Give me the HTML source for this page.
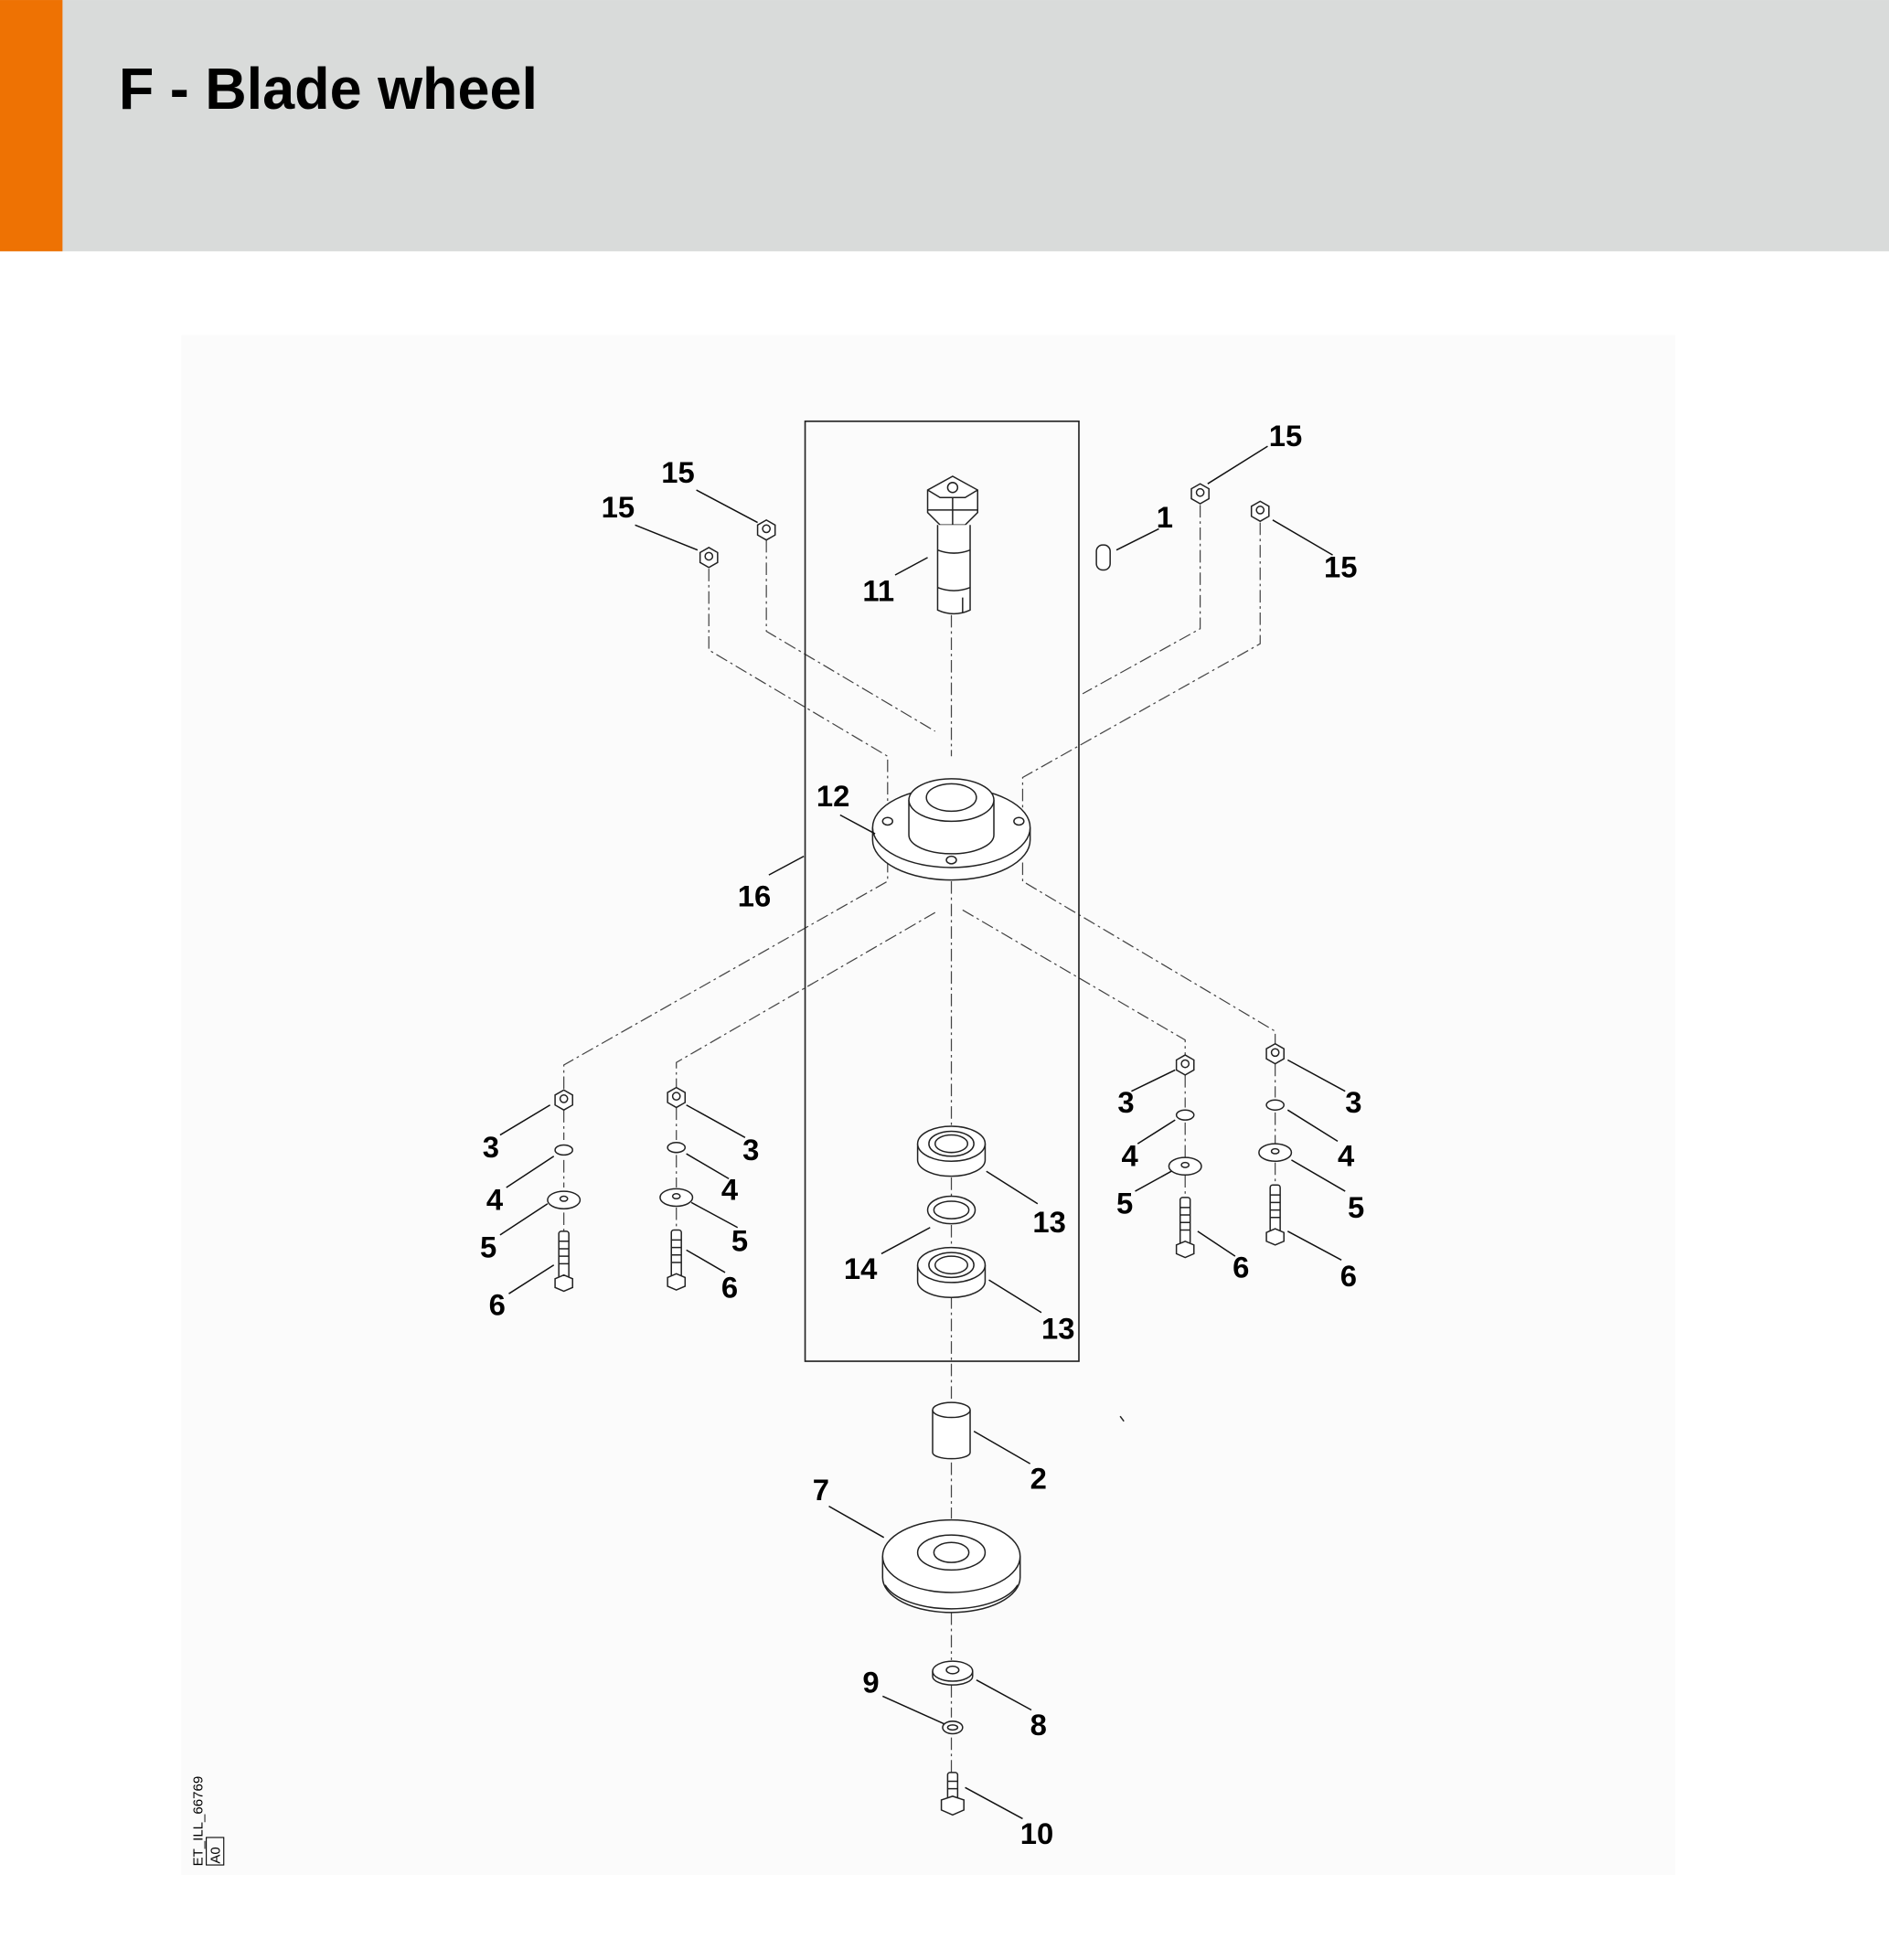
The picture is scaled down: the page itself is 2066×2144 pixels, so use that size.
<!DOCTYPE html>
<html><head><meta charset="utf-8"><style>html,body{margin:0;padding:0;background:#fff}svg{display:block}</style></head>
<body>
<svg width="2066" height="2144" viewBox="0 0 1511 1568" xmlns="http://www.w3.org/2000/svg" font-family="Liberation Sans, Arial, sans-serif">
<defs>
<g id="nut"><path d="M-7 -4 L0 -8 L7 -4 V4 L0 8 L-7 4 Z"/><circle cx="0" cy="-1" r="3"/></g>
<g id="bolt"><rect x="-4" y="0" width="8" height="38" rx="2"/><path d="M-4 8 H4 M-4 14 H4 M-4 20 H4 M-4 26 H4"/><path d="M-7 38 L0 35 L7 38 V45 L0 48 L-7 45 Z"/></g>
</defs>
<rect x="0" y="0" width="1511" height="1568" fill="#fff"/>
<rect x="0" y="0" width="1511" height="201" fill="#d9dbda"/>
<rect x="0" y="0" width="50" height="201" fill="#ee7203"/>
<text x="95" y="87" font-size="47" font-weight="bold" textLength="335" lengthAdjust="spacingAndGlyphs" fill="#000">F - Blade wheel</text>
<rect x="145" y="268" width="1195" height="1232" fill="#fbfbfb"/>

<g fill="none" stroke="#444" stroke-width="0.9" stroke-dasharray="10 3 2 3">
<path d="M761 492 V605 M761 705 V900 M761 942 V958 M761 980 V995 M761 1037 V1122 M761 1170 V1215 M761 1290 V1328 M761 1348 V1374 M761 1390 V1418"/>
<path d="M567 455 V520 L710 605 V650"/>
<path d="M613 432 V505 L748 585"/>
<path d="M960 404 V503 L866 555"/>
<path d="M1008 418 V515 L818 622 V650"/>
<path d="M710 688 V705 L451 852 V872"/>
<path d="M748 730 L541 850 V870"/>
<path d="M770 728 L948 832 V845"/>
<path d="M818 690 V705 L1020 825 V836"/>
<path d="M451 888 V912 M451 928 V950 M451 970 V985 M541 886 V912 M541 924 V950 M541 966 V985 M948 860 V886 M948 898 V926 M948 940 V958 M1020 851 V878 M1020 890 V915 M1020 930 V950"/>
</g>

<rect x="644" y="337" width="219" height="752" fill="none" stroke="#222" stroke-width="1.2"/>

<g fill="#fff" stroke="#222" stroke-width="1.1">
<path d="M742 392 L762 381 L782 392 V410 L772 420 H752 L742 410 Z"/>
<path d="M742 392 L752 398 H772 L782 392 M762 398 V420 M742 408 H782"/>
<circle cx="762" cy="390" r="4"/>
<path d="M750 420 V488 Q763 494 776 488 V420"/>
<path d="M750 440 Q763 445 776 440 M750 470 Q763 475 776 470 M770 478 V490"/>
<rect x="877" y="436" width="11" height="20" rx="5"/>
<use href="#nut" x="567" y="446"/><use href="#nut" x="613" y="424"/><use href="#nut" x="960" y="395"/><use href="#nut" x="1008" y="409"/>
<use href="#nut" x="451" y="880"/><use href="#nut" x="541" y="878"/><use href="#nut" x="948" y="852"/><use href="#nut" x="1020" y="843"/>
<ellipse cx="451" cy="920" rx="7" ry="4"/><ellipse cx="541" cy="918" rx="7" ry="4"/><ellipse cx="948" cy="892" rx="7" ry="4"/><ellipse cx="1020" cy="884" rx="7" ry="4"/>
<ellipse cx="451" cy="960" rx="13" ry="7"/><ellipse cx="451" cy="959" rx="3" ry="2"/>
<ellipse cx="541" cy="958" rx="13" ry="7"/><ellipse cx="541" cy="957" rx="3" ry="2"/>
<ellipse cx="948" cy="933" rx="13" ry="7"/><ellipse cx="948" cy="932" rx="3" ry="2"/>
<ellipse cx="1020" cy="922" rx="13" ry="7"/><ellipse cx="1020" cy="921" rx="3" ry="2"/>
<use href="#bolt" x="451" y="985"/><use href="#bolt" x="541" y="984"/><use href="#bolt" x="948" y="958"/><use href="#bolt" x="1020" y="948"/>
<path d="M698 662 V672 A63 32 0 0 0 824 672 V662"/>
<ellipse cx="761" cy="662" rx="63" ry="32"/>
<path d="M727 640 V668 A34 15 0 0 0 795 668 V640"/>
<ellipse cx="761" cy="640" rx="34" ry="17"/>
<ellipse cx="761" cy="638" rx="20" ry="11"/>
<ellipse cx="710" cy="657" rx="4" ry="3"/><ellipse cx="815" cy="657" rx="4" ry="3"/><ellipse cx="761" cy="688" rx="4" ry="3"/>
<path d="M734 915 V928 A27 13 0 0 0 788 928 V915"/><ellipse cx="761" cy="915" rx="27" ry="14"/><ellipse cx="761" cy="915" rx="18" ry="10"/><ellipse cx="761" cy="915" rx="13" ry="7"/>
<path d="M734 1012 V1025 A27 13 0 0 0 788 1025 V1012"/><ellipse cx="761" cy="1012" rx="27" ry="14"/><ellipse cx="761" cy="1012" rx="18" ry="10"/><ellipse cx="761" cy="1012" rx="13" ry="7"/>
<ellipse cx="761" cy="968" rx="19" ry="11"/><ellipse cx="761" cy="968" rx="14" ry="7"/>
<path d="M746 1128 V1162 A15 5 0 0 0 776 1162 V1128"/><ellipse cx="761" cy="1128" rx="15" ry="6"/>
<path d="M706 1245 V1262 A55 28 0 0 0 816 1262 V1245"/>
<path d="M708 1268 A55 26 0 0 0 814 1268"/>
<ellipse cx="761" cy="1245" rx="55" ry="29"/>
<ellipse cx="761" cy="1242" rx="27" ry="14"/>
<ellipse cx="761" cy="1242" rx="14" ry="8"/>
<path d="M746 1337 V1341 A16 7 0 0 0 778 1341 V1337"/><ellipse cx="762" cy="1337" rx="16" ry="8"/><ellipse cx="762" cy="1336" rx="5" ry="3"/>
<ellipse cx="762" cy="1382" rx="8" ry="5"/><ellipse cx="762" cy="1382" rx="4" ry="2"/>
<rect x="758" y="1418" width="8" height="22" rx="2"/><path d="M758 1425 H766 M758 1431 H766"/><path d="M753 1440 L762 1437 L771 1440 V1448 L762 1452 L753 1448 Z"/>
<path d="M896 1133 l3 4" />
</g>

<g stroke="#111" stroke-width="1.1" fill="none">
<path d="M557 392 L606 418 M508 420 L558 440 M1014 357 L966 387 M927 423 L893 440 M1018 416 L1066 444 M742 446 L716 460 M672 652 L700 667 M615 700 L643 685"/>
<path d="M400 908 L440 884 M405 950 L443 925 M400 988 L438 963 M407 1035 L443 1012"/>
<path d="M549 884 L596 910 M549 923 L583 943 M553 962 L590 982 M549 1000 L580 1018"/>
<path d="M905 873 L940 856 M910 915 L940 896 M908 953 L937 937 M958 985 L988 1005"/>
<path d="M1030 848 L1076 873 M1030 888 L1070 913 M1033 928 L1076 953 M1030 985 L1073 1008"/>
<path d="M789 937 L830 963 M744 982 L705 1003 M791 1024 L833 1050 M779 1145 L824 1171 M663 1205 L707 1230 M781 1344 L825 1368 M706 1357 L755 1379 M772 1430 L818 1455"/>
</g>
<g font-size="24" font-weight="bold" fill="#000">
<text x="529" y="386">15</text><text x="481" y="414">15</text><text x="1015" y="357">15</text><text x="925" y="422">1</text><text x="1059" y="462">15</text>
<text x="690" y="481">11</text><text x="653" y="645">12</text><text x="590" y="725">16</text>
<text x="386" y="926">3</text><text x="389" y="968">4</text><text x="384" y="1006">5</text><text x="391" y="1052">6</text>
<text x="594" y="928">3</text><text x="577" y="960">4</text><text x="585" y="1001">5</text><text x="577" y="1038">6</text>
<text x="894" y="890">3</text><text x="897" y="933">4</text><text x="893" y="971">5</text><text x="986" y="1022">6</text>
<text x="1076" y="890">3</text><text x="1070" y="933">4</text><text x="1078" y="974">5</text><text x="1072" y="1029">6</text>
<text x="826" y="986">13</text><text x="675" y="1023">14</text><text x="833" y="1071">13</text>
<text x="824" y="1191">2</text><text x="650" y="1200">7</text><text x="824" y="1388">8</text><text x="690" y="1354">9</text><text x="816" y="1475">10</text>
</g>
<g font-size="11" fill="#000">
<text transform="translate(162,1493) rotate(-90)">ET_ILL_66769</text>
<rect x="165" y="1470" width="14" height="22" fill="none" stroke="#000" stroke-width="0.8"/>
<text transform="translate(176,1491) rotate(-90)">A0</text>
</g>
</svg>
</body></html>
